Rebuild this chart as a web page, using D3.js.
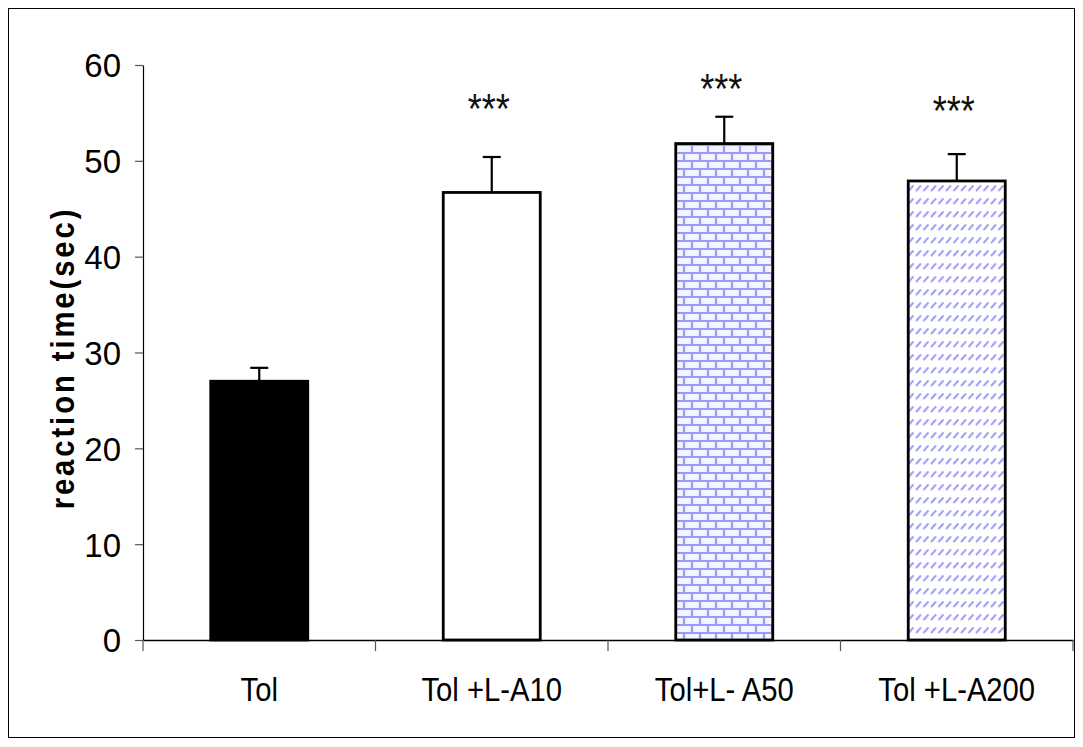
<!DOCTYPE html>
<html><head><meta charset="utf-8">
<script src="https://cdn.jsdelivr.net/npm/d3@7/dist/d3.min.js"></script>
<style>body{margin:0;background:#fff}svg{display:block}</style>
</head><body>
<script>
const categories = ["Tol", "Tol +L-A10", "Tol+L- A50", "Tol +L-A200"];
const means = [27.0, 46.7, 51.8, 47.9];
const errors = [1.4, 3.7, 2.8, 2.8];
const stars = ["", "***", "***", "***"];
const starLevels = [null, 56.2, 58.3, 56.0];
const yTicks = [0, 10, 20, 30, 40, 50, 60];
const fills = ["#000", "#fff", "url(#brick)", "url(#diag)"];

const W = 1083, H = 747;
const FONT = "Liberation Sans, Arial, sans-serif";
const svg = d3.select("body").append("svg").attr("width", W).attr("height", H);
const defs = svg.append("defs");
// brick pattern
const pb = defs.append("pattern").attr("id","brick").attr("patternUnits","userSpaceOnUse")
  .attr("width",16).attr("height",16);
pb.append("rect").attr("width",16).attr("height",16).attr("fill","#f4f4ff");
pb.append("path").attr("d","M0,1H16M0,9H16M4,1V9M12,9V17")
  .attr("stroke","#9a9af8").attr("stroke-width",2.2).attr("fill","none");
// dashed upward diagonal
const pd = defs.append("pattern").attr("id","diag").attr("patternUnits","userSpaceOnUse")
  .attr("width",7.5).attr("height",13);
pd.append("rect").attr("width",7.5).attr("height",13).attr("fill","#fff");
pd.append("path").attr("d","M1.5,8.5L5.5,4").attr("stroke","#9d9df5")
  .attr("stroke-width",1.9).attr("stroke-linecap","round");

svg.append("rect").attr("x",8.5).attr("y",8.5).attr("width",1066).attr("height",729)
  .attr("fill","none").attr("stroke","#000").attr("stroke-width",1);

const x = d3.scaleBand().domain(categories).range([143, 1073]).paddingInner(0).paddingOuter(0);
const y = d3.scaleLinear().domain([0, 60]).range([640, 65]);
const bw = 97;

// y axis
const ya = svg.append("g").attr("transform","translate(143,0)")
  .call(d3.axisLeft(y).tickValues(yTicks).tickSize(8).tickSizeOuter(0).tickPadding(14));
ya.select(".domain").attr("stroke","#000").attr("stroke-width",1.2);
ya.selectAll(".tick line").attr("stroke","#555").attr("stroke-width",1.2);
ya.selectAll("text").attr("font-family",FONT).attr("font-size",33).attr("fill","#000").attr("dy","0.36em");

// x axis
const xa = svg.append("g").attr("transform","translate(0,640)")
  .call(d3.axisBottom(x).tickSize(0).tickSizeOuter(0));
xa.select(".domain").attr("stroke","#000").attr("stroke-width",1.5);
xa.selectAll("text").attr("font-family",FONT).attr("font-size",34).attr("fill","#000")
  .attr("y",61.5).attr("dy",0).attr("transform","scale(0.86,1)");
const bounds = [143].concat(categories.map(c => x(c) + x.bandwidth()));
svg.append("g").selectAll("line").data(bounds).join("line")
  .attr("x1",d=>d).attr("x2",d=>d).attr("y1",640).attr("y2",651)
  .attr("stroke","#555").attr("stroke-width",1.2);

// bars
const cx = c => x(c) + x.bandwidth()/2;
svg.append("g").selectAll("rect").data(categories).join("rect")
  .attr("x", c => cx(c) - bw/2).attr("width", bw)
  .attr("y", (c,i) => y(means[i])).attr("height", (c,i) => y(0) - y(means[i]))
  .attr("fill", (c,i) => fills[i]).attr("stroke","#000").attr("stroke-width",2.8);

// error bars
const eg = svg.append("g").attr("stroke","#000").attr("stroke-width",2.2);
categories.forEach((c,i) => {
  eg.append("line").attr("x1",cx(c)).attr("x2",cx(c)).attr("y1",y(means[i])).attr("y2",y(means[i]+errors[i]));
  eg.append("line").attr("x1",cx(c)-9).attr("x2",cx(c)+9).attr("y1",y(means[i]+errors[i])).attr("y2",y(means[i]+errors[i]));
});

// stars
svg.append("g").selectAll("text").data(categories.filter((c,i)=>stars[i])).join("text")
  .attr("transform", c => {
    const i = categories.indexOf(c);
    return `translate(${cx(c) - 3},${y(starLevels[i]) + 22}) scale(0.86,1)`;
  })
  .attr("text-anchor","middle")
  .attr("font-family",FONT).attr("font-size",42).attr("fill","#111")
  .text(c => stars[categories.indexOf(c)]);

// y label
svg.append("text").attr("transform","translate(74,358) rotate(-90) scale(0.86,1)")
  .attr("text-anchor","middle").attr("font-family",FONT)
  .attr("font-weight","bold").attr("font-size",34).attr("letter-spacing",3.4)
  .text("reaction time(sec)");
</script>
</body></html>
